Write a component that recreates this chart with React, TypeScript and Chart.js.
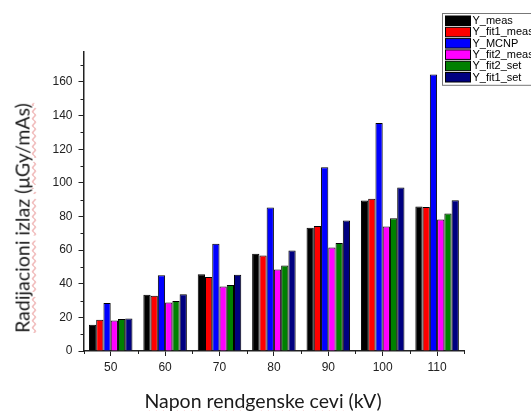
import React, { useEffect, useRef } from "react";
import { Chart, registerables } from "chart.js";

Chart.register(...registerables);

const categories = ["50", "60", "70", "80", "90", "100", "110"];
const seriesNames = ["Y_meas", "Y_fit1_meas", "Y_MCNP", "Y_fit2_meas", "Y_fit2_set", "Y_fit1_set"];
const seriesColors = ["#000000", "#ff0000", "#0000ff", "#ff00ff", "#008000", "#000080"];
const yMeas = [15.6, 33.5, 45.7, 57.8, 73.3, 89.5, 85.9];
const yFit1Meas = [18.6, 32.9, 44.0, 56.8, 74.3, 90.5, 85.7];
const yMCNP = [28.5, 45.0, 63.8, 85.3, 109.3, 135.6, 164.4];
const yFit2Meas = [18.2, 28.9, 38.4, 48.5, 61.6, 74.1, 78.2];
const yFit2Set = [19.0, 29.7, 39.2, 50.9, 64.2, 79.0, 81.8];
const yFit1Set = [19.4, 33.7, 45.3, 59.8, 77.6, 97.2, 89.7];
const seriesValues = [yMeas, yFit1Meas, yMCNP, yFit2Meas, yFit2Set, yFit1Set];
const yMin = 0;
const yMax = 178;
const yMajorStep = 20;
const yMinorStep = 10;
const xTitle = "Napon rendgenske cevi (kV)";
const yTitle = "Radijacioni izlaz (μGy/mAs)";

const axisColor = "#222222";

const minorTicksPlugin = {
  id: "minorTicks",
  afterDraw(chart: any) {
    const ctx = chart.ctx;
    const y = chart.scales.y;
    const x = chart.scales.x;
    ctx.save();
    ctx.strokeStyle = axisColor;
    ctx.lineWidth = 1;
    for (let v = yMin + yMinorStep; v <= yMax; v += yMajorStep) {
      const py = Math.round(y.getPixelForValue(v)) + 0.5;
      ctx.beginPath();
      ctx.moveTo(x.left - 3, py);
      ctx.lineTo(x.left, py);
      ctx.stroke();
    }
    const n = categories.length;
    const half = (x.getPixelForValue(1) - x.getPixelForValue(0)) / 2;
    for (let i = 0; i <= n; i++) {
      const px = Math.round(x.getPixelForValue(0) - half + i * half * 2) + 0.5;
      ctx.beginPath();
      ctx.moveTo(px, y.bottom);
      ctx.lineTo(px, y.bottom + 3);
      ctx.stroke();
    }
    ctx.restore();
  },
};

const boxLegendPlugin = {
  id: "boxLegend",
  afterDraw(chart: any) {
    const ctx = chart.ctx;
    const left = 442.5;
    const top = 13.5;
    const rowH = 11.3;
    const dsets = chart.data.datasets;
    ctx.save();
    ctx.fillStyle = "#ffffff";
    ctx.strokeStyle = "#777777";
    ctx.lineWidth = 1;
    ctx.fillRect(left, top, 100, dsets.length * rowH + 4);
    ctx.strokeRect(left, top, 100, dsets.length * rowH + 4);
    ctx.font = "11px 'Liberation Sans', Arial, sans-serif";
    ctx.textBaseline = "middle";
    dsets.forEach((ds: any, i: number) => {
      const sy = top + 2.5 + i * rowH;
      ctx.fillStyle = ds.backgroundColor;
      ctx.fillRect(left + 3, sy, 25, 9.5);
      ctx.strokeStyle = "#000000";
      ctx.strokeRect(left + 3, sy, 25, 9.5);
      ctx.fillStyle = "#000000";
      ctx.fillText(ds.label, left + 30, sy + 5);
    });
    ctx.restore();
  },
};

export default function App() {
  const canvasRef = useRef<HTMLCanvasElement | null>(null);

  useEffect(() => {
    const canvas = canvasRef.current;
    if (!canvas) return;
    const chart = new Chart(canvas, {
      type: "bar",
      data: {
        labels: categories,
        datasets: seriesNames.map((name, i) => ({
          label: name,
          data: seriesValues[i],
          backgroundColor: seriesColors[i],
          borderColor: "#000000",
          borderWidth: 1,
          categoryPercentage: 0.8,
          barPercentage: 1.0,
        })),
      },
      options: {
        animation: false,
        responsive: false,
        devicePixelRatio: 1,
        layout: { padding: { left: 0, right: 66.7, top: 51.7, bottom: 0 } },
        plugins: {
          legend: { display: false },
          tooltip: { enabled: false },
        },
        scales: {
          x: {
            type: "category",
            offset: true,
            grid: {
              offset: false,
              drawOnChartArea: false,
              tickLength: 5,
              tickColor: axisColor,
              tickWidth: 1,
            },
            border: { color: axisColor, width: 1.5 },
            ticks: {
              color: "#222222",
              padding: 4,
              font: { family: "'Liberation Sans', Arial, sans-serif", size: 12 },
              maxRotation: 0,
            },
            afterFit(scale: any) {
              scale.height = 60;
            },
          },
          y: {
            type: "linear",
            min: yMin,
            max: yMax,
            ticks: {
              stepSize: yMajorStep,
              color: "#222222",
              padding: 6,
              font: { family: "'Liberation Sans', Arial, sans-serif", size: 12 },
            },
            grid: {
              drawOnChartArea: false,
              tickLength: 5,
              tickColor: axisColor,
              tickWidth: 1,
            },
            border: { color: axisColor, width: 1.5 },
            afterBuildTicks(scale: any) {
              scale.ticks = scale.ticks.filter((t: any) => t.value % yMajorStep === 0);
            },
            afterFit(scale: any) {
              scale.width = 83.5;
            },
          },
        },
      },
      plugins: [minorTicksPlugin, boxLegendPlugin],
    });
    return () => chart.destroy();
  }, []);

  const squiggle: React.CSSProperties = {
    textDecoration: "underline wavy #e07070",
    textDecorationThickness: "1px",
    textUnderlineOffset: "2px",
  };

  const titleFont = "Lato, 'Open Sans', sans-serif";

  return (
    <div style={{ position: "fixed", left: 0, top: 0, width: 531, height: 411, background: "#ffffff", overflow: "hidden" }}>
      <canvas ref={canvasRef} width={531} height={411} style={{ position: "absolute", left: 0, top: 0, width: 531, height: 411 }} />
      <div
        style={{
          position: "absolute",
          left: 263,
          top: 400,
          transform: "translate(-50%, -50%)",
          whiteSpace: "nowrap",
          fontFamily: titleFont,
          fontSize: 19.5,
          color: "#1a1a1a",
        }}
      >
        {xTitle.split(" ").map((w, i, arr) => (
          <React.Fragment key={i}>
            <span style={i < 3 ? squiggle : undefined}>{w}</span>
            {i < arr.length - 1 ? " " : ""}
          </React.Fragment>
        ))}
      </div>
      <div
        style={{
          position: "absolute",
          left: 22,
          top: 218,
          transform: "translate(-50%, -50%) rotate(-90deg)",
          whiteSpace: "nowrap",
          fontFamily: titleFont,
          fontSize: 19.5,
          color: "#1a1a1a",
        }}
      >
        {yTitle.split(" ").map((w, i, arr) => (
          <React.Fragment key={i}>
            <span style={squiggle}>{w}</span>
            {i < arr.length - 1 ? " " : ""}
          </React.Fragment>
        ))}
      </div>
    </div>
  );
}
